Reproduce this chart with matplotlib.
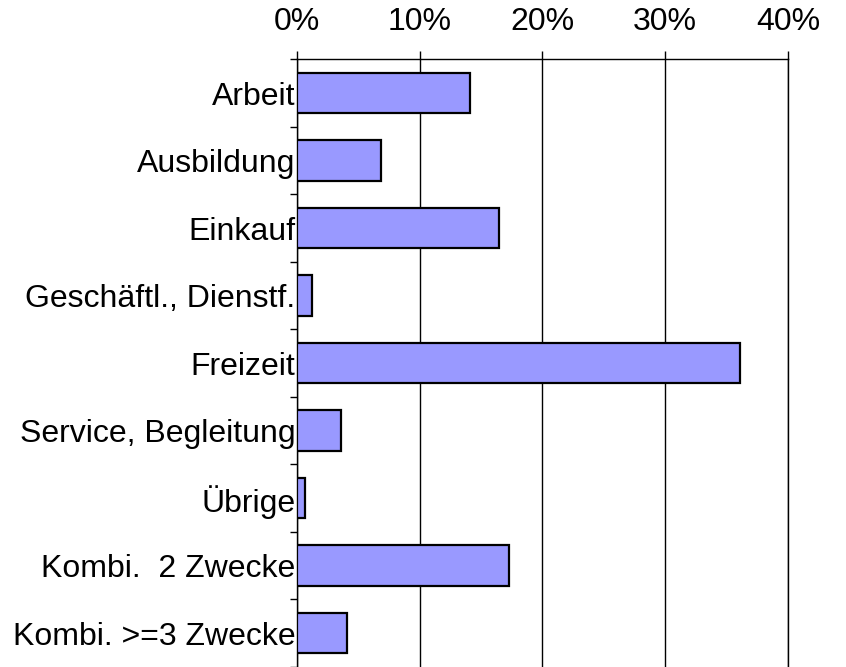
import numpy as np
import matplotlib.pyplot as plt
from matplotlib.ticker import FixedLocator, PercentFormatter

plt.rcParams['font.family'] = ['Liberation Sans', 'DejaVu Sans']

zwecke = ['Arbeit', 'Ausbildung', 'Einkauf', 'Geschäftl., Dienstf.', 'Freizeit',
          'Service, Begleitung', 'Übrige', 'Kombi.  2 Zwecke', 'Kombi. >=3 Zwecke']
anteil = [14.1, 6.85, 16.45, 1.2, 36.1, 3.55, 0.68, 17.25, 4.1]

fig = plt.figure(figsize=(8.46, 6.67), dpi=100)
ax = fig.add_axes([0.351, 0.0, 0.5804, 0.911])

y = np.arange(len(zwecke))
ax.barh(y, anteil, height=0.6, color='#9999FF', edgecolor='black', linewidth=1.6, zorder=3)

ax.set_xlim(0, 40)
ax.set_ylim(len(zwecke) - 0.5, -0.5)
ax.xaxis.tick_top()
ax.set_xticks([0, 10, 20, 30, 40])
ax.xaxis.set_major_formatter(PercentFormatter(decimals=0))
ax.grid(axis='x', color='black', linewidth=1.0, zorder=1)

ax.set_yticks(y)
ax.set_yticklabels(zwecke)
ax.yaxis.set_minor_locator(FixedLocator(np.arange(-0.5, len(zwecke), 1.0)))

ax.tick_params(axis='x', which='major', length=6, width=1, pad=10, labelsize=23)
ax.tick_params(axis='y', which='major', length=0, pad=1, labelsize=23)
ax.tick_params(axis='y', which='minor', length=5, width=1)

ax.spines['bottom'].set_visible(False)
for s in ['top', 'left', 'right']:
    ax.spines[s].set_linewidth(1.0)

fig.savefig('out.png', dpi=100)
